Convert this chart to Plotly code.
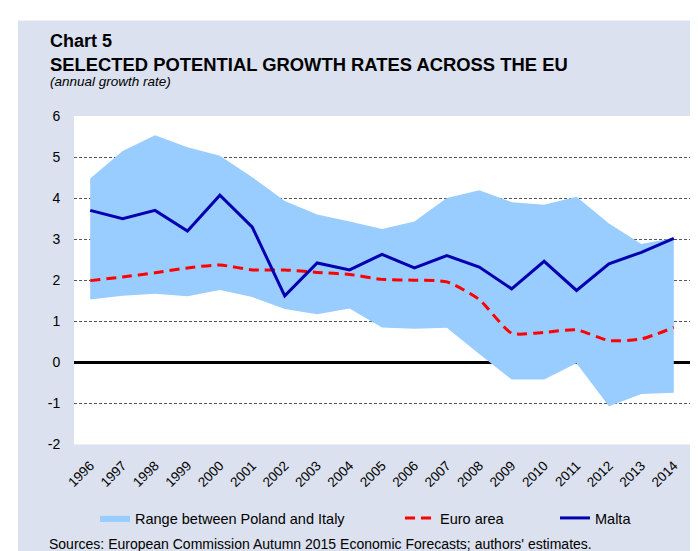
import plotly.graph_objects as go

# données
annees = [str(a) for a in range(1996, 2015)]
fourchette_haut = [4.48, 5.15, 5.53, 5.24, 5.03, 4.51, 3.93, 3.60, 3.43, 3.25,
                   3.43, 4.00, 4.19, 3.90, 3.84, 4.03, 3.38, 2.88, 3.03]
fourchette_bas = [1.53, 1.62, 1.67, 1.61, 1.76, 1.59, 1.30, 1.17, 1.31, 0.85,
                  0.82, 0.84, 0.20, -0.42, -0.42, -0.02, -1.07, -0.77, -0.74]
zone_euro = [1.99, 2.08, 2.18, 2.30, 2.37, 2.25, 2.25, 2.19, 2.14, 2.02,
             2.00, 1.96, 1.53, 0.71, 0.73, 0.79, 0.53, 0.57, 0.85]
malte = [3.70, 3.50, 3.70, 3.20, 4.07, 3.29, 1.62, 2.42, 2.25, 2.63,
         2.30, 2.60, 2.32, 1.79, 2.46, 1.75, 2.40, 2.68, 3.02]
graduations = [-2, -1, 0, 1, 2, 3, 4, 5, 6]
etiquettes = ["-2", "-1", "0", "1", "2", "3", "4", "5", "6"]

police = "Arial, Liberation Sans, sans-serif"
fond = "#DBE1EE"

fig = go.Figure()

# fourchette Pologne / Italie
fig.add_trace(go.Scatter(x=annees, y=fourchette_bas, mode="lines",
                         line=dict(width=0), showlegend=False, hoverinfo="skip"))
fig.add_trace(go.Scatter(x=annees, y=fourchette_haut, mode="lines",
                         line=dict(width=0), fill="tonexty", fillcolor="#99CCFF",
                         name="Range between Poland and Italy", legend="legend"))

fig.add_trace(go.Scatter(x=annees, y=zone_euro, mode="lines", name="Euro area",
                         line=dict(color="#FF0000", width=3, dash="10px,6px",
                                   shape="spline", smoothing=0.6),
                         legend="legend2"))
fig.add_trace(go.Scatter(x=annees, y=malte, mode="lines", name="Malta",
                         line=dict(color="#0000B0", width=3), legend="legend3"))

fig.update_layout(
    width=698, height=551,
    margin=dict(l=66, r=16, t=108, b=113),
    paper_bgcolor=fond, plot_bgcolor="white",
    font=dict(family=police, size=14, color="black"),
    showlegend=True,
)

fig.update_xaxes(type="category", range=[-0.5, 18.5], showgrid=False,
                 tickangle=-45, ticks="outside", ticklen=7, tickcolor="rgba(0,0,0,0)",
                 tickfont=dict(size=13.5), showline=False, zeroline=False)
fig.update_yaxes(range=[-2, 6], tickvals=graduations, ticktext=etiquettes,
                 showgrid=True, gridcolor="#555555",
                 gridwidth=1, griddash="3px,2px", zeroline=True, zerolinecolor="black",
                 zerolinewidth=2.5, ticks="outside", ticklen=10,
                 tickcolor="rgba(0,0,0,0)", tickfont=dict(size=14), showline=False)

# légendes séparées pour placer chaque entrée
for nom, px in [("legend", 87), ("legend2", 392), ("legend3", 547)]:
    fig.update_layout({nom: dict(orientation="h", xref="container", yref="container",
                                 x=px / 698, y=1 - 510 / 551, xanchor="left",
                                 yanchor="middle", bgcolor="rgba(0,0,0,0)",
                                 font=dict(size=14.5))})

def px_x(p):
    return (p - 66) / 616

def px_y(p):
    return (438 - p) / 330

# titres
fig.add_annotation(text="<b>Chart 5</b>", x=px_x(40), y=px_y(33), xref="paper",
                   yref="paper", xanchor="left", yanchor="middle", showarrow=False,
                   font=dict(size=18))
fig.add_annotation(text="<b>SELECTED POTENTIAL GROWTH RATES ACROSS THE EU</b>",
                   x=px_x(40), y=px_y(56), xref="paper", yref="paper",
                   xanchor="left", yanchor="middle", showarrow=False,
                   font=dict(size=18.4))
fig.add_annotation(text="<i>(annual growth rate)</i>", x=px_x(40), y=px_y(73),
                   xref="paper", yref="paper", xanchor="left", yanchor="middle",
                   showarrow=False, font=dict(size=13.5))
fig.add_annotation(text="Sources: European Commission Autumn 2015 Economic Forecasts; authors' estimates.",
                   x=px_x(39), y=px_y(538), xref="paper", yref="paper",
                   xanchor="left", yanchor="middle", showarrow=False,
                   font=dict(size=14))

# bandes blanches en haut et à gauche
fig.add_shape(type="rect", xref="paper", yref="paper", x0=-0.2, x1=1.2,
              y0=px_y(12), y1=px_y(-5), fillcolor="white", line_width=0)
fig.add_shape(type="rect", xref="paper", yref="paper", x0=px_x(-5), x1=px_x(10),
              y0=px_y(560), y1=px_y(0), fillcolor="white", line_width=0)

fig.write_html("out.html")
